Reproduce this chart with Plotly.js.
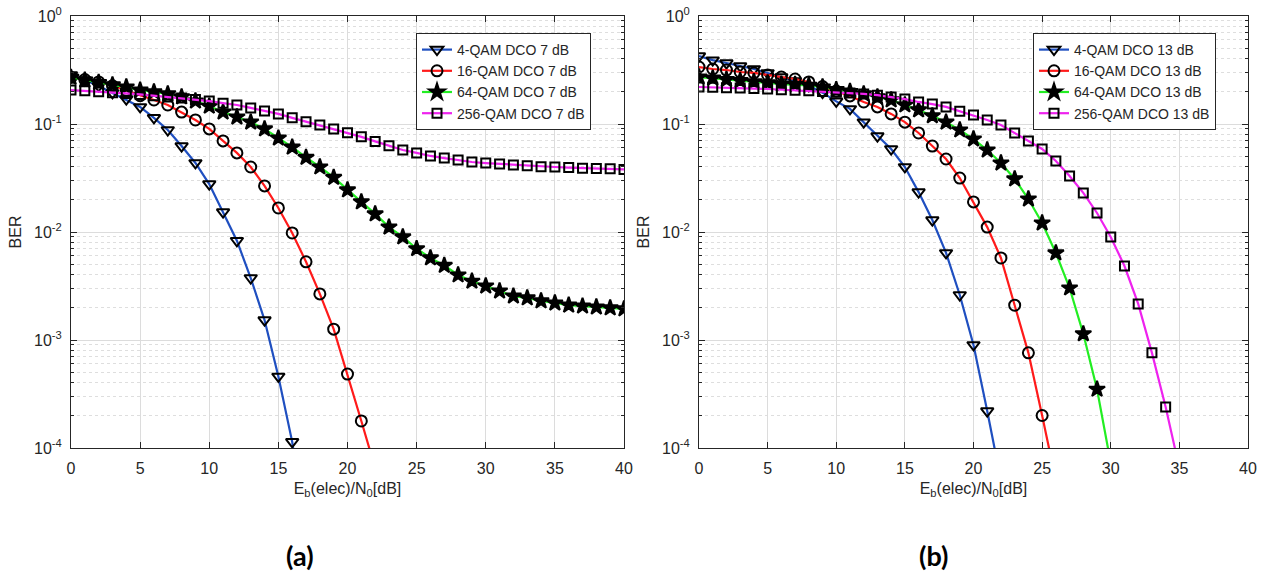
<!DOCTYPE html>
<html>
<head>
<meta charset="utf-8">
<script src="https://cdn.plot.ly/plotly-3.0.1.min.js"></script>
<style>html,body{margin:0;padding:0;background:#fff;}#chart{width:1272px;height:586px;}</style>
</head>
<body>
<div id="chart"></div>
<script>
// ---------- data ----------
const ebn0 = [0,1,2,3,4,5,6,7,8,9,10,11,12,13,14,15,16,17,18,19,20,21,22,23,24,25,26,27,28,29,30,31,32,33,34,35,36,37,38,39,40];

// (a) DCO 7 dB
const qam4_7dB   = [0.284,0.255,0.225,0.194,0.170,0.144,0.114,0.088,0.0625,0.0436,0.0278,0.0153,0.0083,0.00375,0.00153,4.6e-4,1.14e-4,1.5e-5];
const qam16_7dB  = [0.270,0.258,0.245,0.226,0.205,0.183,0.167,0.150,0.129,0.109,0.090,0.0697,0.054,0.040,0.0267,0.0167,0.0098,0.0053,0.00267,0.00126,4.84e-4,1.78e-4,6.5e-5];
const qam64_7dB  = [0.270,0.255,0.242,0.230,0.220,0.206,0.198,0.190,0.178,0.163,0.146,0.129,0.116,0.104,0.090,0.074,0.061,0.049,0.040,0.032,0.0245,0.019,0.0147,0.0111,0.0090,0.0070,0.00575,0.0049,0.0040,0.0035,0.00316,0.00284,0.00255,0.00245,0.0023,0.0022,0.0021,0.00206,0.00202,0.00198,0.00194];
const qam256_7dB = [0.206,0.203,0.199,0.195,0.192,0.188,0.183,0.178,0.174,0.169,0.163,0.156,0.150,0.141,0.132,0.124,0.114,0.105,0.098,0.090,0.083,0.076,0.069,0.063,0.0575,0.054,0.0506,0.0484,0.0465,0.0445,0.0435,0.0427,0.0418,0.041,0.0403,0.040,0.0395,0.039,0.0388,0.0385,0.038];

// (b) DCO 13 dB
const qam4_13dB   = [0.426,0.390,0.367,0.344,0.323,0.297,0.272,0.250,0.226,0.195,0.162,0.138,0.104,0.0774,0.0587,0.040,0.0234,0.0129,0.0064,0.00261,9.0e-4,2.2e-4,5e-5];
const qam16_13dB  = [0.337,0.323,0.316,0.303,0.297,0.284,0.272,0.261,0.245,0.222,0.202,0.182,0.160,0.144,0.124,0.104,0.0826,0.0625,0.0474,0.0316,0.019,0.0111,0.00575,0.0021,7.6e-4,2.0e-4,5e-5];
const qam64_13dB  = [0.272,0.266,0.258,0.252,0.246,0.240,0.234,0.232,0.228,0.220,0.208,0.200,0.190,0.178,0.167,0.150,0.135,0.119,0.104,0.088,0.0726,0.0574,0.0435,0.031,0.0202,0.0121,0.0064,0.00303,0.00114,3.5e-4,8e-5,1.5e-5];
const qam256_13dB = [0.220,0.219,0.217,0.215,0.213,0.211,0.208,0.205,0.203,0.200,0.197,0.194,0.190,0.185,0.178,0.170,0.160,0.153,0.144,0.131,0.121,0.109,0.098,0.0826,0.0697,0.0587,0.0454,0.033,0.023,0.015,0.009,0.00484,0.00216,7.6e-4,2.4e-4,6.5e-5];

const namesA = ['4-QAM DCO 7 dB','16-QAM DCO 7 dB','64-QAM DCO 7 dB','256-QAM DCO 7 dB'];
const namesB = ['4-QAM DCO 13 dB','16-QAM DCO 13 dB','64-QAM DCO 13 dB','256-QAM DCO 13 dB'];
const yTickVals = [1e-4,1e-3,1e-2,1e-1,1];
const yTickText = ['10<sup>-4</sup>','10<sup>-3</sup>','10<sup>-2</sup>','10<sup>-1</sup>','10<sup>0</sup>'];

// ---------- styles ----------
const lineColors = ['#1f4fc0','#ff1a1a','#22ee22','#ee22ee'];
const symbols = ['triangle-down-open','circle-open','star','square-open'];
const sizes = [11,11,12,9];
const FONT = 'Liberation Sans, Arial, sans-serif';

function mk(y, i, name, xa, ya, leg){
  return {
    x: ebn0.slice(0, y.length), y: y, name: name,
    xaxis: xa, yaxis: ya, legend: leg,
    type: 'scatter', mode: 'lines+markers',
    line: {color: lineColors[i], width: 2.2},
    marker: {symbol: symbols[i], size: sizes[i], color: '#000',
             line: {color: '#000', width: 2}},
    cliponaxis: true
  };
}

const seriesA = [qam4_7dB, qam16_7dB, qam64_7dB, qam256_7dB];
const seriesB = [qam4_13dB, qam16_13dB, qam64_13dB, qam256_13dB];
const traces = [];
seriesA.forEach((s,i)=>traces.push(mk(s,i,namesA[i],'x','y','legend')));
seriesB.forEach((s,i)=>traces.push(mk(s,i,namesB[i],'x2','y2','legend2')));

// minor log grid positions
const minorVals = [];
for (let e=-4; e<0; e++) for (let m=2; m<=9; m++) minorVals.push(m*Math.pow(10,e));

const W=1272, H=586;
const yd = [(H-448)/H, (H-16)/H];

function xax(dom){
  return {
    domain: dom, range: [0,40], dtick: 5, tick0: 0,
    showgrid: true, gridcolor: '#dcdcdc', gridwidth: 1, zeroline: false,
    showline: true, linecolor: '#262626', linewidth: 1, mirror: 'ticks',
    ticks: 'inside', ticklen: 6, tickcolor: '#262626',
    tickfont: {family: FONT, size: 16, color: '#262626'},
    ticklabelstandoff: 6,
    title: {text: 'E<sub>b</sub>(elec)/N<sub>0</sub>[dB]', font: {family: FONT, size: 16, color: '#262626'}, standoff: 6},
    automargin: false, fixedrange: true
  };
}
function yax(dom, anchor){
  return {
    domain: dom, anchor: anchor, type: 'log', range: [-4, 0],
    tickmode: 'array', tickvals: yTickVals, ticktext: yTickText,
    showgrid: true, gridcolor: '#dcdcdc', gridwidth: 1, zeroline: false,
    showline: true, linecolor: '#262626', linewidth: 1, mirror: 'ticks',
    ticks: 'inside', ticklen: 6, tickcolor: '#262626',
    tickfont: {family: FONT, size: 16, color: '#262626'},
    ticklabelstandoff: 5,
    minor: {tickmode: 'array', tickvals: minorVals, showgrid: true, gridcolor: '#dedede',
            griddash: 'dot', gridwidth: 1, ticks: 'inside', ticklen: 3, tickcolor: '#262626'},
    title: {text: 'BER', font: {family: FONT, size: 16, color: '#262626'}, standoff: 8},
    automargin: false, fixedrange: true
  };
}

const legendStyle = (x) => ({
  x: x, y: 1 - 33/H, xanchor: 'left', yanchor: 'top',
  bgcolor: '#ffffff', bordercolor: '#262626', borderwidth: 1,
  font: {family: FONT, size: 14, color: '#262626'},
  tracegroupgap: 0, itemwidth: 30
});

const layout = {
  width: W, height: H,
  margin: {l:0, r:0, t:0, b:0},
  paper_bgcolor: '#fff', plot_bgcolor: '#fff',
  showlegend: true,
  xaxis: xax([71/W, 624/W]),
  yaxis: yax(yd, 'x'),
  xaxis2: Object.assign(xax([699/W, 1248/W]), {anchor: 'y2'}),
  yaxis2: yax(yd, 'x2'),
  legend: legendStyle(416/W),
  legend2: legendStyle(1033/W),
  annotations: [
    {text: '<b>(a)</b>', x: 300/W, y: 1 - 555/H, xref: 'paper', yref: 'paper', showarrow: false,
     font: {family: 'Lato, Open Sans, sans-serif', size: 27, color: '#000'}, xanchor: 'center', yanchor: 'middle'},
    {text: '<b>(b)</b>', x: 933/W, y: 1 - 555/H, xref: 'paper', yref: 'paper', showarrow: false,
     font: {family: 'Lato, Open Sans, sans-serif', size: 27, color: '#000'}, xanchor: 'center', yanchor: 'middle'}
  ]
};
layout.xaxis.anchor = 'y';

Plotly.newPlot('chart', traces, layout, {staticPlot: true, displayModeBar: false});
</script>
</body>
</html>
